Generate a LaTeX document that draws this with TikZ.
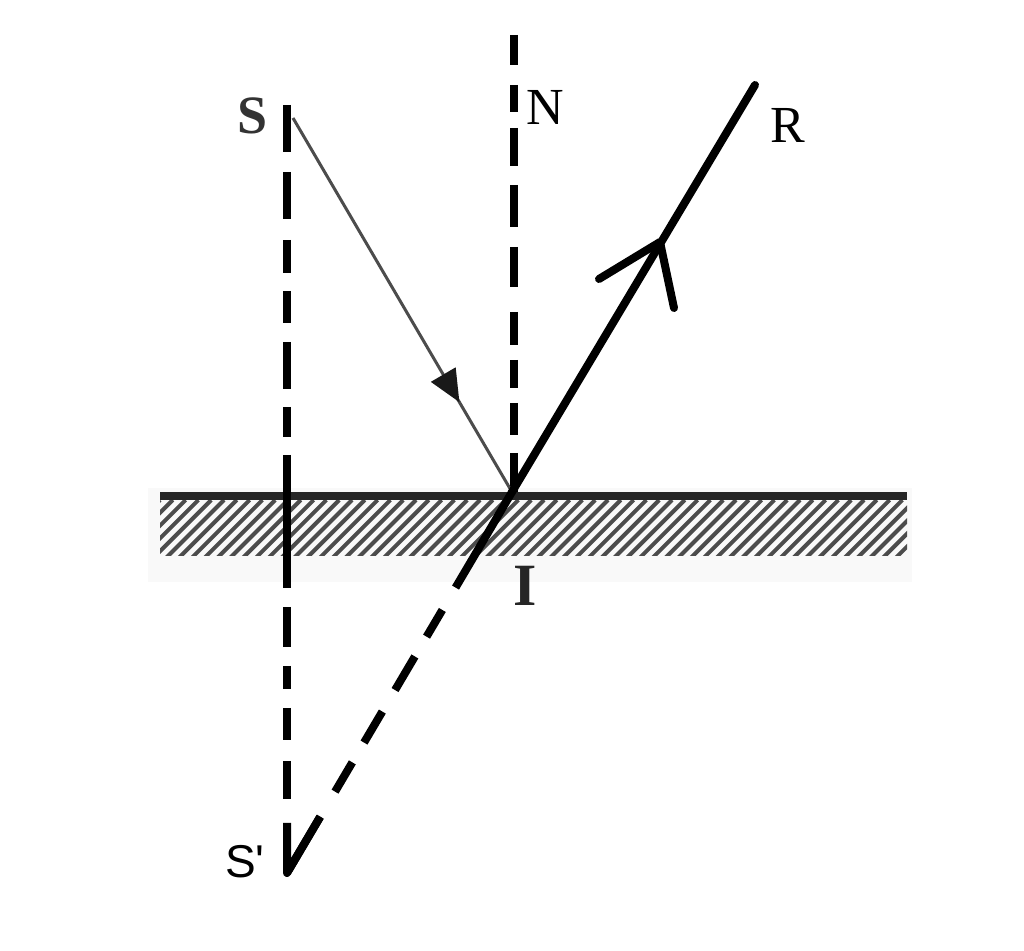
\documentclass[tikz,border=0pt]{standalone}
\usepackage{fontspec}
\setmainfont{Liberation Serif}
\newfontfamily\sansf{Liberation Sans}
\usetikzlibrary{arrows.meta,decorations.markings,calc}
\begin{document}
\begin{tikzpicture}[x=0.5pt,y=-0.5pt,
  lbl/.style={inner sep=0pt,font=\fontsize{26}{28}\selectfont},
  guide/.style={line width=4.4pt,black},
  ray/.style={line width=4pt,black},
  incident/.style={line width=1.5pt,black!70},
  hatchline/.style={line width=2pt,black!70}]
\useasboundingbox (0,0) rectangle (1024,951);
\fill[white] (0,0) rectangle (1024,951);

% key points
\coordinate (S) at (287,105);
\coordinate (Sp) at (287,873);
\coordinate (I) at (512,492);
\coordinate (Ntop) at (514,35);
\coordinate (Nbot) at (514,492);
\coordinate (R) at (755,85);
\coordinate (Sray) at (293,118);
\coordinate (Vtop) at (287,823);
\coordinate (Vdiag) at ($(I)!0.853!(Sp)$);
\coordinate (Atip) at (660,242);
\coordinate (Aleft) at (599,279);
\coordinate (Aright) at (674,308);

% mirror
\fill[black!2.5] (148,488) rectangle (912,582);
\begin{scope}
  \clip (160,500) rectangle (907,556);
  \foreach \k in {0,...,70} {
    \draw[hatchline] (100+12.8*\k,560) -- (160+12.8*\k,500);
  }
\end{scope}
\draw[line width=4pt,black!85] (160,496) coordinate (Ml) -- (907,496) coordinate (Mr);

% vertical guide through S and S'
\draw[guide,dash pattern=on 23.5pt off 10pt on 23.5pt off 10.5pt on 16.5pt off 9pt on 16pt off 9.5pt on 23.5pt off 9pt on 15pt off 9pt on 66.5pt off 9.5pt on 20pt off 9.5pt on 11.5pt off 9.5pt on 16pt off 10.5pt on 19pt off 12pt on 25pt off 50pt] (S) -- (Sp);

% normal
\draw[line width=4pt,dash pattern=on 15pt off 10pt on 13.5pt off 8pt on 19pt off 9.5pt on 21pt off 10pt on 20pt off 12.5pt on 16.5pt off 7.5pt on 14pt off 7.5pt on 16pt off 9pt on 19.5pt off 50pt] (Ntop) -- (Nbot);

% virtual ray I -> S'
\draw[ray,dash pattern=on 55.5pt off 13pt on 15.5pt off 11.5pt on 19.5pt off 12.5pt on 18pt off 11.5pt on 17pt off 14.5pt on 32.5pt off 50pt] (I) -- (Sp);
\draw[ray,line join=round] (Vtop) -- (Sp) -- (Vdiag);

% incident ray
\draw[incident,postaction={decorate},decoration={markings,
  mark=at position 0.76 with {\arrow[black!90]{Triangle[length=16pt,width=14pt]}}}] (Sray) -- (I);

% reflected ray
\draw[ray,line cap=round] (I) -- (R);
\draw[ray,line cap=round,line join=round] (Aleft) -- (Atip) -- (Aright);

% labels
\node[lbl,font=\fontsize{27}{29}\selectfont\bfseries,text=black!80] (lS) at (253,116) {S};
\node[lbl] (lN) at (545,107) {N};
\node[lbl] (lR) at (788,125) {R};
\node[lbl,font=\fontsize{30}{32}\selectfont\bfseries,text=black!85] (lI) at (525,586) {I};
\node[lbl,font=\fontsize{23}{25}\sansf] (lSp) at (245,862) {S'};
\end{tikzpicture}
\end{document}
